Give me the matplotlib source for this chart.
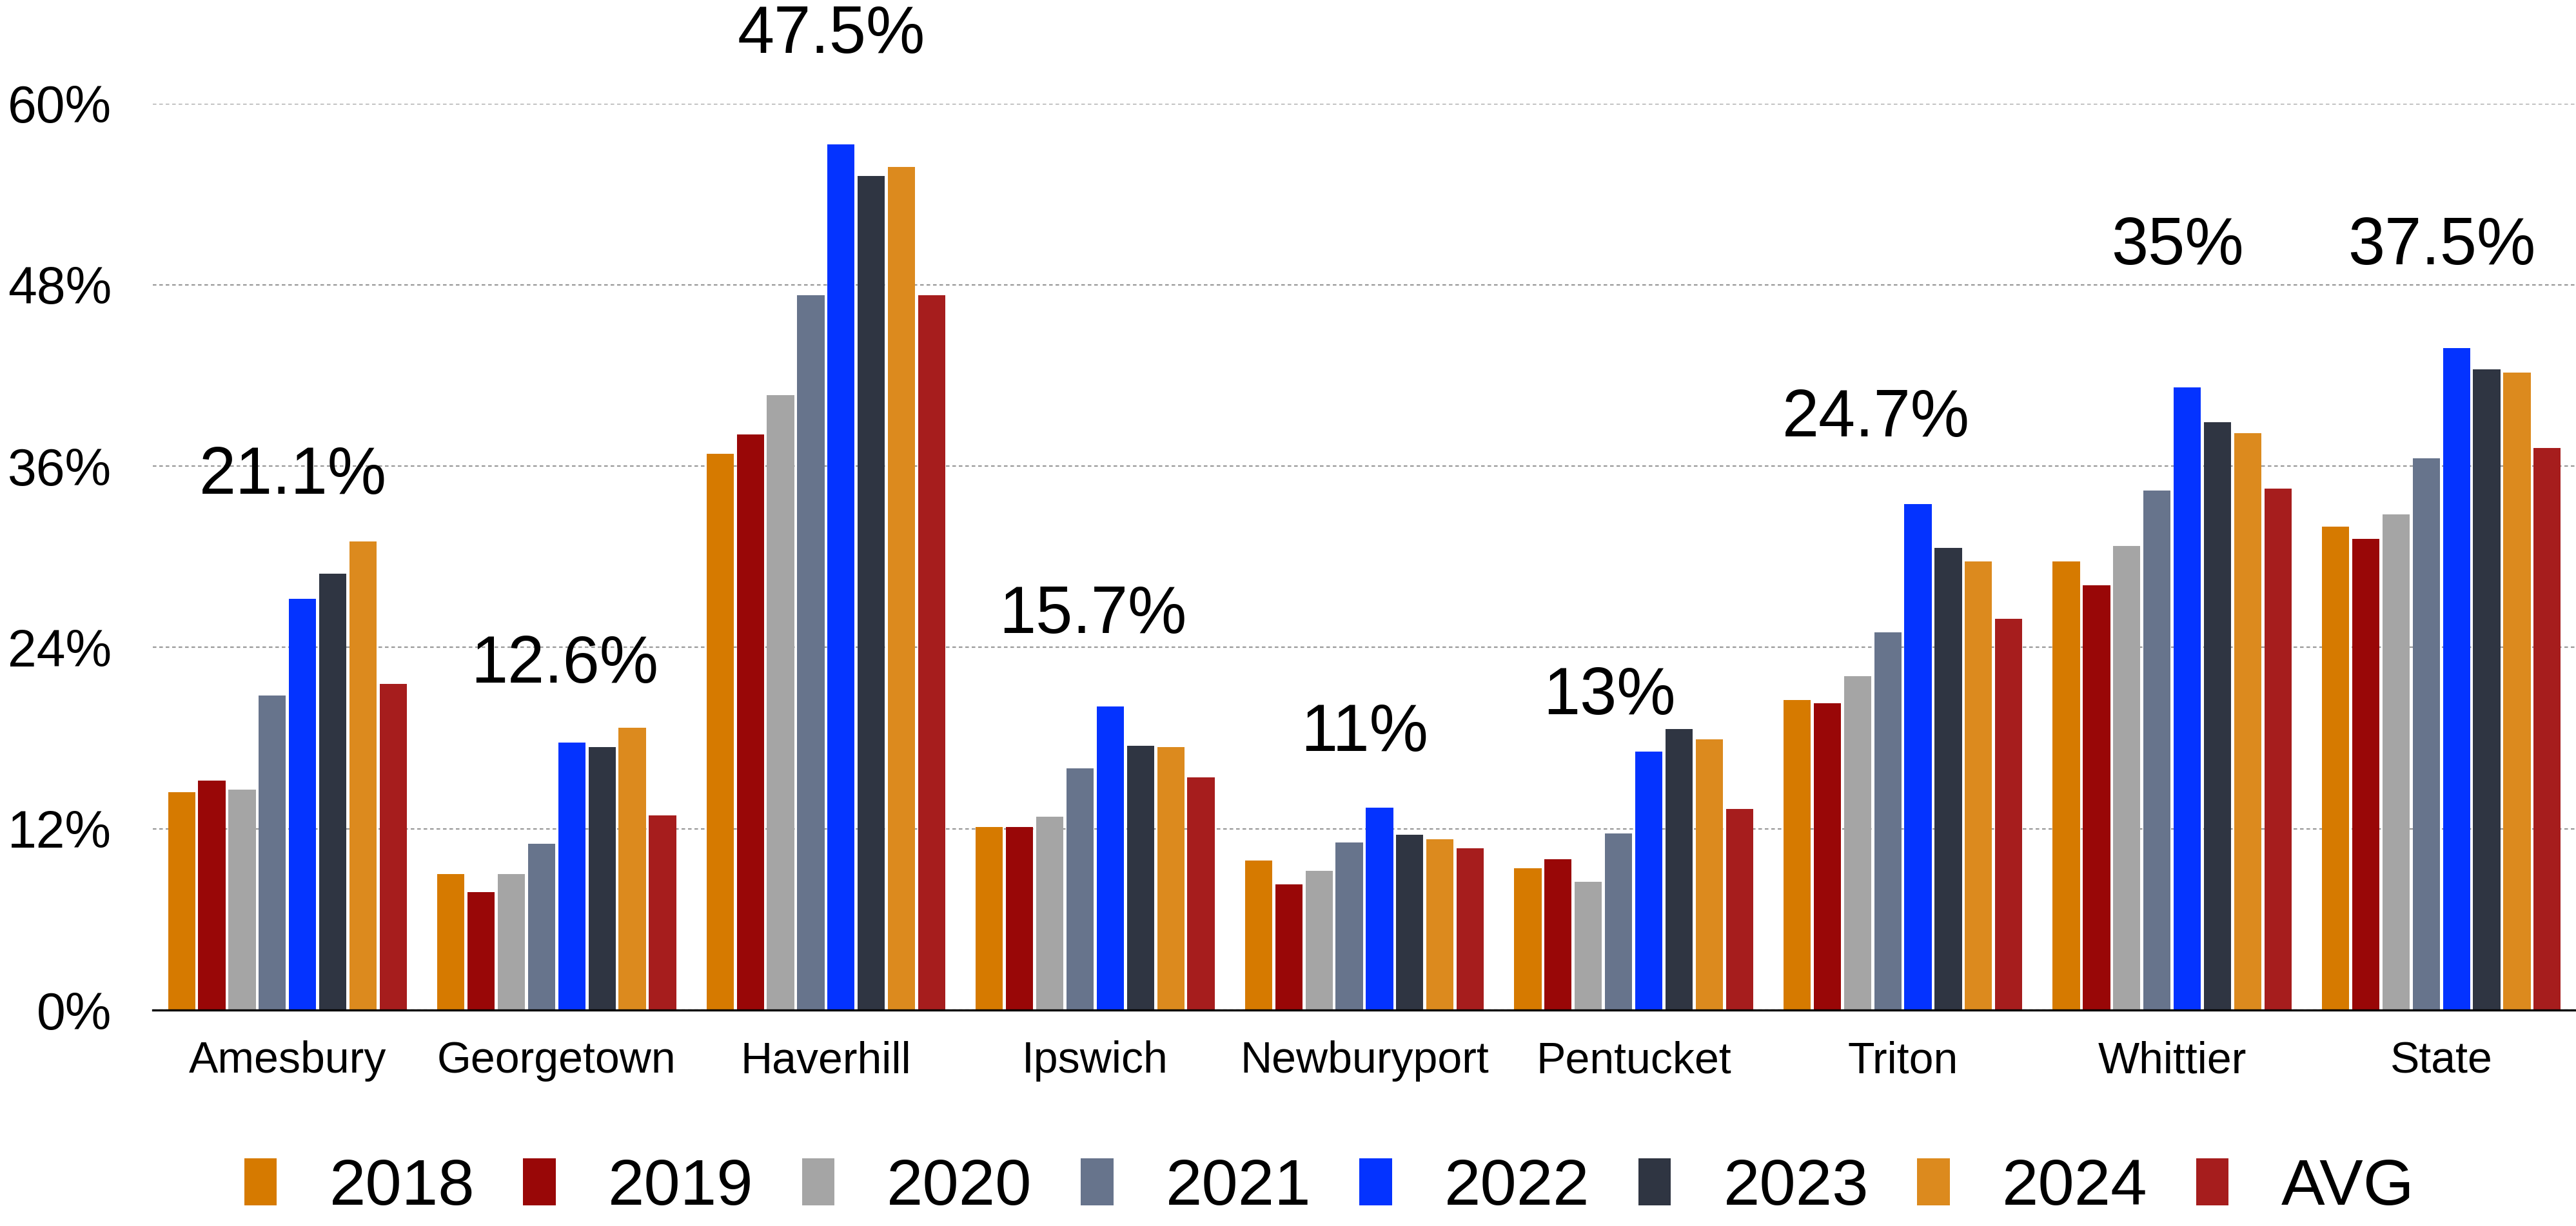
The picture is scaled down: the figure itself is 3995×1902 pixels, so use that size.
import matplotlib
matplotlib.use("Agg")
import matplotlib.pyplot as plt
import numpy as np

plt.rcParams['font.family'] = ['Liberation Sans', 'DejaVu Sans']

# ---------------- data ----------------
categories = ["Amesbury", "Georgetown", "Haverhill", "Ipswich", "Newburyport",
              "Pentucket", "Triton", "Whittier", "State"]
series_names = ["2018", "2019", "2020", "2021", "2022", "2023", "2024", "AVG"]

v2018 = [14.4, 9.0, 36.8, 12.1, 9.9, 9.4, 20.5, 29.7, 32.0]
v2019 = [15.2, 7.8, 38.1, 12.1, 8.3, 10.0, 20.3, 28.1, 31.2]
v2020 = [14.6, 9.0, 40.7, 12.8, 9.2, 8.5, 22.1, 30.7, 32.8]
v2021 = [20.8, 11.0, 47.3, 16.0, 11.1, 11.7, 25.0, 34.4, 36.5]
v2022 = [27.2, 17.7, 57.3, 20.1, 13.4, 17.1, 33.5, 41.2, 43.8]
v2023 = [28.9, 17.4, 55.2, 17.5, 11.6, 18.6, 30.6, 38.9, 42.4]
v2024 = [31.0, 18.7, 55.8, 17.4, 11.3, 17.9, 29.7, 38.2, 42.2]
vavg  = [21.6, 12.9, 47.3, 15.4, 10.7, 13.3, 25.9, 34.5, 37.2]

label_texts = ["21.1%", "12.6%", "47.5%", "15.7%", "11%", "13%", "24.7%", "35%", "37.5%"]
ytick_values = [0, 12, 24, 36, 48, 60]
ytick_labels = ["0%", "12%", "24%", "36%", "48%", "60%"]

# ---------------- style / placement ----------------
colors = ["#D67A00", "#990707", "#A5A5A5", "#67748C", "#0433FF", "#2F3542", "#DC8A1E", "#A61D1D"]
label_y = [35.3, 22.8, 64.5, 26.1, 18.3, 20.7, 39.1, 50.5, 50.5]
label_dx = [0.02, 0.03, 0.02, -0.01, 0.0, -0.09, -0.10, 0.02, 0.0]

series = [v2018, v2019, v2020, v2021, v2022, v2023, v2024, vavg]

W, H = 3995, 1902
fig = plt.figure(figsize=(W / 100, H / 100), dpi=100)
ax = fig.add_axes([237 / W, 1 - 1567 / H, 1 - 237 / W, (1567 - 160.5) / H])

x = np.arange(len(categories))
pitch = 0.1123
width = pitch * 0.9
n = len(series)
for i, (vals, c, name) in enumerate(zip(series, colors, series_names)):
    offs = (i - (n - 1) / 2) * pitch
    ax.bar(x + offs, vals, width=width, color=c, label=name, zorder=3, linewidth=0)

for xi, txt, ly, dx in zip(x, label_texts, label_y, label_dx):
    ax.text(xi + dx, ly, txt, ha="center", va="center", fontsize=74, color="black",
            clip_on=False, zorder=5)

ax.set_xlim(-0.5, len(categories) - 0.5)
ax.set_ylim(0, 60)
ax.set_yticks(ytick_values)
ax.set_yticklabels(ytick_labels)
ax.set_xticks(x)
ax.set_xticklabels(categories)
ax.tick_params(axis="y", length=0, pad=46, labelsize=58)
ax.tick_params(axis="x", length=0, pad=34, labelsize=49)

ax.yaxis.grid(True, color="#999999", linewidth=1.6, linestyle=(0, (2.5, 2)), zorder=0)
ax.xaxis.grid(False)
for s in ["left", "right", "top"]:
    ax.spines[s].set_visible(False)
ax.spines["bottom"].set_linewidth(2.4)
ax.spines["bottom"].set_color("black")
ax.spines["bottom"].set_zorder(4)

fig.legend(loc="center", bbox_to_anchor=(0.516, 0.031), ncol=8, frameon=False,
           fontsize=73, handlelength=0.5, handleheight=0.72, handletextpad=0.8,
           columnspacing=0.74, borderaxespad=0)

fig.savefig("out.png", dpi=100, facecolor="white")
